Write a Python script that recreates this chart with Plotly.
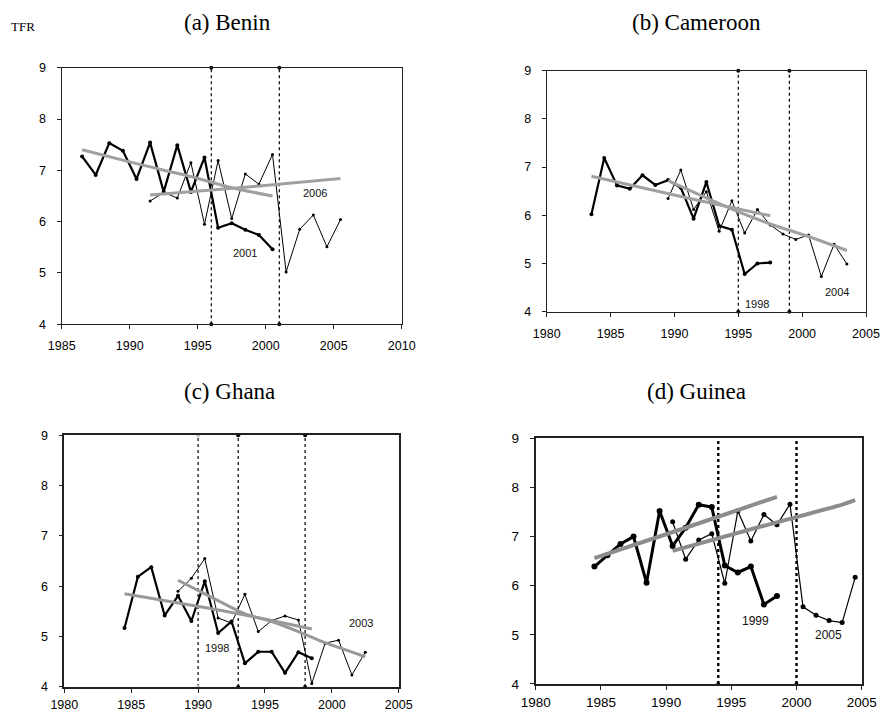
import plotly.graph_objects as go

# ---------------- Benin ----------------
benin_years_2001 = [1986.5, 1987.5, 1988.5, 1989.5, 1990.5, 1991.5, 1992.5, 1993.5,
                    1994.5, 1995.5, 1996.5, 1997.5, 1998.5, 1999.5, 2000.5]
benin_tfr_2001 = [7.27, 6.91, 7.53, 7.38, 6.83, 7.54, 6.58, 7.49, 6.58, 7.25,
                  5.88, 5.97, 5.84, 5.74, 5.46]
benin_years_2006 = [1991.5, 1992.5, 1993.5, 1994.5, 1995.5, 1996.5, 1997.5, 1998.5,
                    1999.5, 2000.5, 2001.5, 2002.5, 2003.5, 2004.5, 2005.5]
benin_tfr_2006 = [6.40, 6.57, 6.46, 7.15, 5.95, 7.19, 6.06, 6.93, 6.73, 7.31,
                  5.02, 5.85, 6.13, 5.51, 6.04]
benin_trend_years_2001 = [1986.5, 1990.5, 1994.5, 1997.5, 2000.5]
benin_trend_2001 = [7.40, 7.13, 6.88, 6.66, 6.50]
benin_trend_years_2006 = [1991.5, 1998.5, 2005.5]
benin_trend_2006 = [6.52, 6.67, 6.84]
benin_cuts = [1996, 2001]

# ---------------- Cameroon ----------------
cam_years_1998 = [1983.5, 1984.5, 1985.5, 1986.5, 1987.5, 1988.5, 1989.5, 1990.5,
                  1991.5, 1992.5, 1993.5, 1994.5, 1995.5, 1996.5, 1997.5]
cam_tfr_1998 = [6.02, 7.19, 6.62, 6.55, 6.83, 6.63, 6.73, 6.57, 5.93, 6.69,
                5.78, 5.70, 4.78, 5.00, 5.02]
cam_years_2004 = [1989.5, 1990.5, 1991.5, 1992.5, 1993.5, 1994.5, 1995.5, 1996.5,
                  1997.5, 1998.5, 1999.5, 2000.5, 2001.5, 2002.5, 2003.5]
cam_tfr_2004 = [6.35, 6.94, 6.12, 6.49, 5.67, 6.30, 5.63, 6.12, 5.80, 5.61,
                5.50, 5.59, 4.73, 5.40, 4.99]
cam_trend_years_1998 = [1983.5, 1991.2, 1997.5]
cam_trend_1998 = [6.81, 6.35, 5.99]
cam_trend_years_2004 = [1989.5, 1991.5, 1994.5, 1997.5, 2000.5, 2003.5]
cam_trend_2004 = [6.72, 6.48, 6.13, 5.82, 5.56, 5.27]
cam_cuts = [1995, 1999]

# ---------------- Ghana ----------------
gha_years_1998 = [1984.5, 1985.5, 1986.5, 1987.5, 1988.5, 1989.5, 1990.5, 1991.5,
                  1992.5, 1993.5, 1994.5, 1995.5, 1996.5, 1997.5, 1998.5]
gha_tfr_1998 = [5.17, 6.19, 6.38, 5.42, 5.81, 5.31, 6.10, 5.07, 5.30, 4.47,
                4.70, 4.70, 4.28, 4.69, 4.57]
gha_years_2003 = [1988.5, 1989.5, 1990.5, 1991.5, 1992.5, 1993.5, 1994.5, 1995.5,
                  1996.5, 1997.5, 1998.5, 1999.5, 2000.5, 2001.5, 2002.5]
gha_tfr_2003 = [5.90, 6.16, 6.55, 5.37, 5.27, 5.84, 5.10, 5.32, 5.41, 5.33,
                4.07, 4.87, 4.93, 4.24, 4.69]
gha_trend_years_1998 = [1984.5, 1990.5, 1993.5, 1995.5, 1998.5]
gha_trend_1998 = [5.85, 5.58, 5.43, 5.32, 5.15]
gha_trend_years_2003 = [1988.5, 1990.5, 1993.5, 1995.5, 1997.5, 1999.5, 2002.5]
gha_trend_2003 = [6.12, 5.85, 5.45, 5.30, 5.10, 4.88, 4.60]
gha_cuts = [1990, 1993, 1998]
gha_cut_marker_colors = ["#c8c8c8", "#000000", "#000000"]

# ---------------- Guinea ----------------
gui_years_1999 = [1984.5, 1985.5, 1986.5, 1987.5, 1988.5, 1989.5, 1990.5, 1991.5,
                  1992.5, 1993.5, 1994.5, 1995.5, 1996.5, 1997.5, 1998.5]
gui_tfr_1999 = [6.39, 6.62, 6.85, 7.00, 6.06, 7.52, 6.81, 7.18, 7.65, 7.60,
                6.41, 6.27, 6.39, 5.62, 5.79]
gui_years_2005 = [1990.5, 1991.5, 1992.5, 1993.5, 1994.5, 1995.5, 1996.5, 1997.5,
                  1998.5, 1999.5, 2000.5, 2001.5, 2002.5, 2003.5, 2004.5]
gui_tfr_2005 = [7.30, 6.54, 6.93, 7.06, 6.05, 7.52, 6.91, 7.45, 7.24, 7.66,
                5.57, 5.40, 5.29, 5.25, 6.17]
gui_trend_years_1999 = [1984.5, 1991.5, 1998.5]
gui_trend_1999 = [6.56, 7.18, 7.81]
gui_trend_years_2005 = [1990.5, 1997.5, 2003.5, 2004.5]
gui_trend_2005 = [6.71, 7.22, 7.65, 7.74]
gui_cuts = [1994, 2000]

y_range = [4, 9]

SANS = "Arial, Liberation Sans, sans-serif"
SERIF = "Times New Roman, Liberation Serif, serif"

fig = go.Figure()

panels = [
    dict(name="(a) Benin", xa="x", ya="y",
         xdom=[0.0701, 0.4565], ydom=[0.5439, 0.9048], xr=[1985, 2010],
         first=(benin_years_2001, benin_tfr_2001), second=(benin_years_2006, benin_tfr_2006),
         trends=[(benin_trend_years_2001, benin_trend_2001), (benin_trend_years_2006, benin_trend_2006)],
         cuts=benin_cuts, cut_colors=["#000000"] * 2, cut_ends=[4, 9],
         labels=[("2001", 1998.5, 5.39), ("2006", 2003.6, 6.56)],
         title_xy=(0.258, 0.9677), x_standoff=6,
         thick=2.2, thin=1.0, msize=4, trend_w=3, trend_c="#a0a0a0",
         cut_w=1.2, axis_w=1.3, tick_size=12.5, label_size=11),
    dict(name="(b) Cameroon", xa="x2", ya="y2",
         xdom=[0.6213, 0.9841], ydom=[0.5616, 0.9006], xr=[1980, 2005],
         first=(cam_years_1998, cam_tfr_1998), second=(cam_years_2004, cam_tfr_2004),
         trends=[(cam_trend_years_1998, cam_trend_1998), (cam_trend_years_2004, cam_trend_2004)],
         cuts=cam_cuts, cut_colors=["#000000"] * 2, cut_ends=[4, 9],
         labels=[("1998", 1996.45, 4.16), ("2004", 2002.7, 4.41)],
         title_xy=(0.791, 0.9677), x_standoff=6,
         thick=2.2, thin=1.0, msize=4, trend_w=3, trend_c="#a0a0a0",
         cut_w=1.2, axis_w=1.3, tick_size=12.5, label_size=11),
    dict(name="(c) Ghana", xa="x3", ya="y3",
         xdom=[0.0731, 0.4531], ydom=[0.0338, 0.3878], xr=[1980, 2005],
         first=(gha_years_1998, gha_tfr_1998), second=(gha_years_2003, gha_tfr_2003),
         trends=[(gha_trend_years_1998, gha_trend_1998), (gha_trend_years_2003, gha_trend_2003)],
         cuts=gha_cuts, cut_colors=gha_cut_marker_colors, cut_ends=[4, 9],
         labels=[("1998", 1991.43, 4.77), ("2003", 2002.2, 5.28)],
         title_xy=(0.261, 0.449), x_standoff=1,
         thick=2.2, thin=1.0, msize=4, trend_w=3, trend_c="#999999",
         cut_w=1.2, axis_w=1.6, tick_size=12.5, label_size=11),
    dict(name="(d) Guinea", xa="x4", ya="y4",
         xdom=[0.6088, 0.9792], ydom=[0.0380, 0.3835], xr=[1980, 2005],
         first=(gui_years_1999, gui_tfr_1999), second=(gui_years_2005, gui_tfr_2005),
         trends=[(gui_trend_years_1999, gui_trend_1999), (gui_trend_years_2005, gui_trend_2005)],
         cuts=gui_cuts, cut_colors=["#000000"] * 2, cut_ends=[4],
         labels=[("1999", 1996.86, 5.29), ("2005", 2002.49, 4.99)],
         title_xy=(0.791, 0.450), x_standoff=1,
         thick=3.0, thin=1.2, msize=6, trend_w=4, trend_c="#8c8c8c",
         cut_w=2.4, axis_w=2.0, tick_size=13.5, label_size=12),
]

annotations = []
layout_axes = {}

for i, p in enumerate(panels):
    xa, ya = p["xa"], p["ya"]
    # survey cut-off years as dotted verticals
    for cx, cc in zip(p["cuts"], p["cut_colors"]):
        fig.add_trace(go.Scatter(
            x=[cx, cx], y=y_range, mode="lines", xaxis=xa, yaxis=ya,
            line=dict(color="#000000", width=p["cut_w"], dash="dot"),
            hoverinfo="skip", showlegend=False, cliponaxis=False))
        fig.add_trace(go.Scatter(
            x=[cx] * len(p["cut_ends"]), y=p["cut_ends"], mode="markers",
            xaxis=xa, yaxis=ya, marker=dict(color=cc, size=4),
            hoverinfo="skip", showlegend=False, cliponaxis=False))
    # earlier survey: heavy line
    fx, fy = p["first"]
    fig.add_trace(go.Scatter(
        x=fx, y=fy, mode="lines+markers", xaxis=xa, yaxis=ya,
        line=dict(color="#000000", width=p["thick"]),
        marker=dict(color="#000000", size=p["msize"]), showlegend=False))
    # later survey: light line
    sx, sy = p["second"]
    fig.add_trace(go.Scatter(
        x=sx, y=sy, mode="lines+markers", xaxis=xa, yaxis=ya,
        line=dict(color="#000000", width=p["thin"]),
        marker=dict(color="#000000", size=p["msize"] - 1), showlegend=False))
    # fitted trends
    for tx, ty in p["trends"]:
        fig.add_trace(go.Scatter(
            x=tx, y=ty, mode="lines", xaxis=xa, yaxis=ya,
            line=dict(color=p["trend_c"], width=p["trend_w"], shape="spline", smoothing=0.6),
            hoverinfo="skip", showlegend=False))

    suffix = "" if i == 0 else str(i + 1)
    axis_common = dict(showline=True, linecolor="#222222", linewidth=p["axis_w"],
                       mirror=True, ticks="outside", ticklen=4, tickwidth=1,
                       tickcolor="#222222", showgrid=False, zeroline=False,
                       automargin=False,
                       tickfont=dict(family=SANS, size=p["tick_size"], color="#000000"))
    layout_axes["xaxis" + suffix] = dict(
        domain=p["xdom"], range=p["xr"], tick0=p["xr"][0], dtick=5,
        anchor=ya, ticklabelstandoff=p["x_standoff"], **axis_common)
    layout_axes["yaxis" + suffix] = dict(
        domain=p["ydom"], range=y_range, dtick=1, anchor=xa,
        ticklabelstandoff=8, **axis_common)

    annotations.append(dict(
        text=p["name"], x=p["title_xy"][0], y=p["title_xy"][1], xref="paper", yref="paper",
        showarrow=False, xanchor="center", yanchor="middle",
        font=dict(family=SERIF, size=23, color="#000000")))
    for txt, lx, ly in p["labels"]:
        annotations.append(dict(
            text=txt, x=lx, y=ly, xref=xa, yref=ya, showarrow=False,
            xanchor="center", yanchor="middle",
            font=dict(family=SANS, size=p["label_size"], color="#111111")))

annotations.append(dict(
    text="TFR", x=0.026, y=0.963, xref="paper", yref="paper", showarrow=False,
    xanchor="center", yanchor="middle",
    font=dict(family=SERIF, size=13, color="#000000")))

fig.update_layout(
    width=880, height=711,
    margin=dict(l=0, r=0, t=0, b=0, autoexpand=False),
    paper_bgcolor="#ffffff", plot_bgcolor="#ffffff",
    annotations=annotations,
    **layout_axes)

fig.write_html("out.html")
